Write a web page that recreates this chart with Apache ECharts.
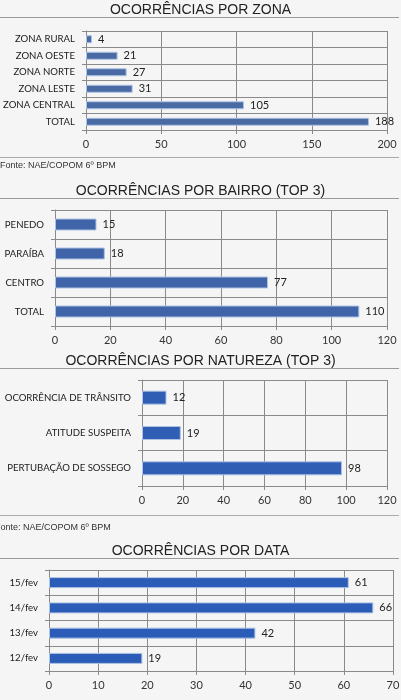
<!DOCTYPE html>
<html>
<head>
<meta charset="utf-8">
<script src="https://cdn.jsdelivr.net/npm/echarts@6/dist/echarts.min.js"></script>
<style>
html,body{margin:0;padding:0;background:#f5f5f5;}
#c{width:401px;height:700px;}
</style>
</head>
<body>
<div id="c"></div>
<script>
// ---- data ----
const titles = ['OCORRÊNCIAS POR ZONA', 'OCORRÊNCIAS POR BAIRRO (TOP 3)', 'OCORRÊNCIAS POR NATUREZA (TOP 3)', 'OCORRÊNCIAS POR DATA'];
const sourceText = 'Fonte: NAE/COPOM 6º BPM';

const zonaCats = ['ZONA RURAL', 'ZONA OESTE', 'ZONA NORTE', 'ZONA LESTE', 'ZONA CENTRAL', 'TOTAL'];
const zonaVals = [4, 21, 27, 31, 105, 188];
const zonaTicks = [0, 50, 100, 150, 200];

const bairroCats = ['PENEDO', 'PARAÍBA', 'CENTRO', 'TOTAL'];
const bairroVals = [15, 18, 77, 110];
const bairroTicks = [0, 20, 40, 60, 80, 100, 120];

const naturezaCats = ['OCORRÊNCIA DE TRÂNSITO', 'ATITUDE SUSPEITA', 'PERTUBAÇÃO DE SOSSEGO'];
const naturezaVals = [12, 19, 98];
const naturezaTicks = [0, 20, 40, 60, 80, 100, 120];

const dataCats = ['15/fev', '14/fev', '13/fev', '12/fev'];
const dataVals = [61, 66, 42, 19];
const dataTicks = [0, 10, 20, 30, 40, 50, 60, 70];

// ---- layout / style ----
const panels = [
  {cats: zonaCats, vals: zonaVals, ticks: zonaTicks, grid: {left: 86, top: 31, width: 301, height: 99}, titleTop: 3, barW: 8, color: '#4a6aa4'},
  {cats: bairroCats, vals: bairroVals, ticks: bairroTicks, grid: {left: 55, top: 210, width: 332, height: 116}, titleTop: 184, barW: 12, color: '#3f64a8'},
  {cats: naturezaCats, vals: naturezaVals, ticks: naturezaTicks, grid: {left: 142, top: 380, width: 245, height: 106}, titleTop: 354, barW: 14, color: '#2f5eb4'},
  {cats: dataCats, vals: dataVals, ticks: dataTicks, grid: {left: 49, top: 570, width: 344, height: 101}, titleTop: 544, barW: 11, color: '#2b5cb7'}
];
const lineColor = '#8a8a8a';
const labelFont = 'Lato, "Open Sans", sans-serif';

const option = {
  backgroundColor: '#f5f5f5',
  animation: false,
  title: panels.map((p, i) => ({
    text: titles[i], left: 'center', top: p.titleTop, padding: 0,
    textStyle: {fontFamily: '"Liberation Sans", Arial, sans-serif', fontSize: 14, fontWeight: 'normal', color: '#222'}
  })),
  grid: panels.map(p => Object.assign({containLabel: false, outerBoundsMode: 'none'}, p.grid)),
  xAxis: panels.map((p, i) => ({
    type: 'value', gridIndex: i,
    min: p.ticks[0], max: p.ticks[p.ticks.length - 1], interval: p.ticks[1] - p.ticks[0],
    axisLine: {show: true, lineStyle: {color: lineColor, width: 1}},
    axisTick: {show: true, length: 4, lineStyle: {color: lineColor}},
    splitLine: {show: true, lineStyle: {color: lineColor, width: 1}},
    axisLabel: {fontFamily: labelFont, fontSize: 11, color: '#333', margin: 9, hideOverlap: false}
  })),
  yAxis: panels.map((p, i) => ({
    type: 'category', gridIndex: i, data: p.cats, inverse: true,
    axisLine: {show: true, lineStyle: {color: lineColor, width: 1}},
    axisTick: {show: true, length: 4, interval: 0, lineStyle: {color: lineColor}},
    splitLine: {show: true, interval: 0, lineStyle: {color: lineColor, width: 1}},
    axisLabel: {fontFamily: labelFont, fontSize: 9.6, color: '#1a1a1a', margin: 11, interval: 0}
  })),
  series: panels.map((p, i) => ({
    type: 'bar', xAxisIndex: i, yAxisIndex: i, data: p.vals, barWidth: p.barW,
    itemStyle: {color: p.color, borderColor: '#aec3e4', borderWidth: 1},
    label: {show: true, position: 'right', distance: 6, fontFamily: labelFont, fontSize: 11, color: '#222'}
  })),
  graphic: [
    {type: 'line', shape: {x1: 0, y1: 17.5, x2: 399, y2: 17.5}, style: {stroke: '#999', lineWidth: 1}},
    {type: 'line', shape: {x1: 0, y1: 157.5, x2: 399, y2: 157.5}, style: {stroke: '#aaa', lineWidth: 1}},
    {type: 'text', left: 0, top: 161, style: {text: sourceText, font: '9px "Liberation Sans", Arial, sans-serif', fill: '#333'}},
    {type: 'line', shape: {x1: 0, y1: 198.5, x2: 399, y2: 198.5}, style: {stroke: '#999', lineWidth: 1}},
    {type: 'line', shape: {x1: 0, y1: 368.5, x2: 399, y2: 368.5}, style: {stroke: '#999', lineWidth: 1}},
    {type: 'line', shape: {x1: 0, y1: 515.5, x2: 399, y2: 515.5}, style: {stroke: '#aaa', lineWidth: 1}},
    {type: 'text', x: -5, y: 523, style: {text: sourceText, font: '9px "Liberation Sans", Arial, sans-serif', fill: '#333'}},
    {type: 'line', shape: {x1: 0, y1: 558.5, x2: 399, y2: 558.5}, style: {stroke: '#999', lineWidth: 1}}
  ]
};

const chart = echarts.init(document.getElementById('c'), null, {renderer: 'canvas'});
chart.setOption(option);
</script>
</body>
</html>
